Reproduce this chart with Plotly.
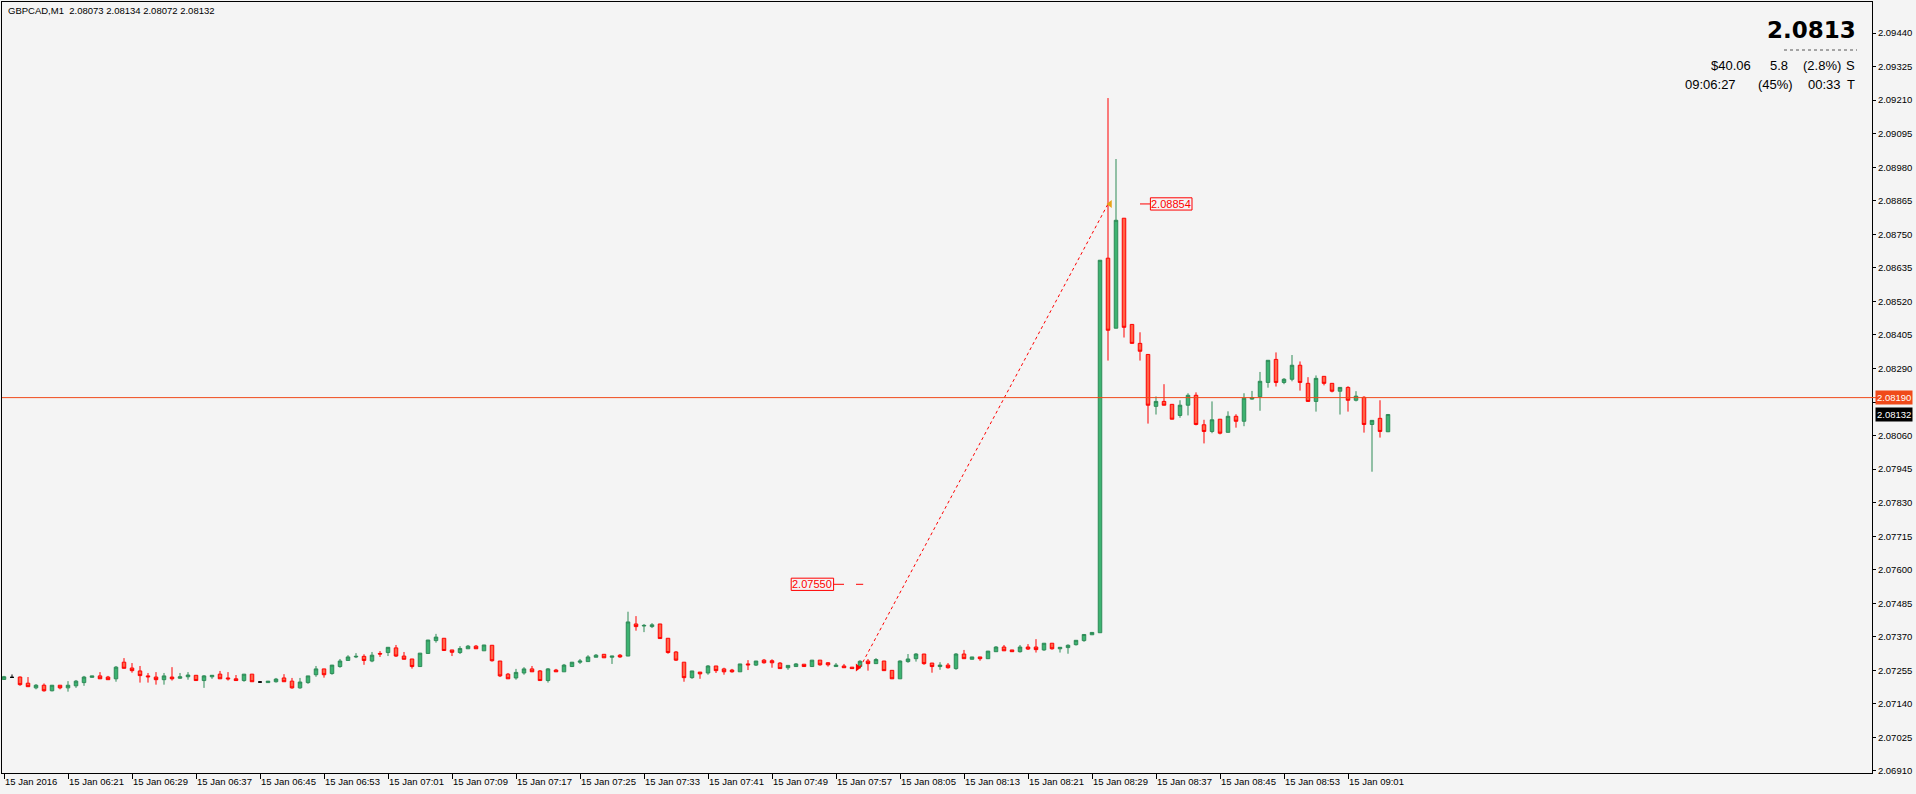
import plotly.graph_objects as go

# ---------------- data (GBPCAD M1, 15 Jan 2016, bars 06:13 .. 09:06) ----------------
bar_index = list(range(174))

opens = [
2.07224,2.07231,2.07232,2.07211,2.07195,2.07204,2.07185,2.07204,2.07195,2.07202,
2.07213,2.07231,2.07236,2.07232,2.07226,2.07283,2.07263,2.07253,2.07236,2.07232,
2.07223,2.07232,2.07228,2.07233,2.07238,2.07220,2.07233,2.07242,2.07229,2.07226,
2.07220,2.07242,2.07215,2.07213,2.07216,2.07229,2.07218,2.07195,2.07213,2.07240,
2.07260,2.07244,2.07268,2.07289,2.07301,2.07303,2.07287,2.07313,2.07316,2.07332,
2.07304,2.07294,2.07268,2.07313,2.07357,2.07365,2.07325,2.07316,2.07329,2.07338,
2.07322,2.07341,2.07287,2.07242,2.07229,2.07246,2.07260,2.07253,2.07220,2.07256,
2.07250,2.07268,2.07283,2.07285,2.07300,2.07310,2.07300,2.07307,2.07304,2.07414,
2.07407,2.07405,2.07414,2.07365,2.07318,2.07283,2.07230,2.07249,2.07246,2.07270,
2.07260,2.07256,2.07250,2.07277,2.07273,2.07290,2.07288,2.07280,2.07264,2.07268,
2.07276,2.07268,2.07290,2.07281,2.07268,2.07270,2.07266,2.07268,2.07287,2.07278,
2.07287,2.07255,2.07226,2.07285,2.07295,2.07311,2.07280,2.07268,2.07273,2.07261,
2.07311,2.07293,2.07301,2.07295,2.07319,2.07335,2.07325,2.07319,2.07335,2.07335,
2.07325,2.07348,2.07329,2.07333,2.07343,2.07357,2.07377,2.07384,2.08668,2.08428,
2.08805,2.08441,2.08376,2.08338,2.08160,2.08177,2.08167,2.08129,2.08164,2.08198,
2.08097,2.08074,2.08116,2.08071,2.08126,2.08109,2.08185,2.08193,2.08242,2.08321,
2.08242,2.08253,2.08301,2.08239,2.08177,2.08263,2.08239,2.08212,2.08225,2.08181,
2.08191,2.08098,2.08119,2.08073]

highs = [
2.07236,2.07241,2.07234,2.07232,2.07208,2.07210,2.07204,2.07204,2.07218,2.07222,
2.07236,2.07236,2.07249,2.07236,2.07270,2.07297,2.07280,2.07270,2.07246,2.07249,
2.07246,2.07266,2.07246,2.07249,2.07238,2.07239,2.07238,2.07253,2.07249,2.07239,
2.07242,2.07242,2.07218,2.07218,2.07229,2.07242,2.07229,2.07229,2.07236,2.07270,
2.07260,2.07273,2.07294,2.07307,2.07314,2.07310,2.07318,2.07321,2.07334,2.07342,
2.07318,2.07294,2.07314,2.07359,2.07380,2.07365,2.07325,2.07338,2.07342,2.07342,
2.07342,2.07341,2.07287,2.07246,2.07260,2.07266,2.07270,2.07256,2.07263,2.07260,
2.07277,2.07283,2.07294,2.07307,2.07311,2.07310,2.07304,2.07311,2.07456,2.07441,
2.07414,2.07417,2.07414,2.07365,2.07321,2.07283,2.07253,2.07249,2.07273,2.07270,
2.07264,2.07260,2.07277,2.07290,2.07287,2.07294,2.07293,2.07283,2.07272,2.07280,
2.07276,2.07290,2.07290,2.07283,2.07280,2.07277,2.07266,2.07290,2.07294,2.07297,
2.07287,2.07255,2.07289,2.07311,2.07314,2.07311,2.07280,2.07283,2.07280,2.07314,
2.07325,2.07301,2.07301,2.07321,2.07338,2.07342,2.07325,2.07342,2.07345,2.07362,
2.07348,2.07348,2.07334,2.07344,2.07358,2.07378,2.07385,2.08661,2.09217,2.09008,
2.08805,2.08441,2.08414,2.08338,2.08194,2.08236,2.08167,2.08181,2.08205,2.08208,
2.08114,2.08177,2.08116,2.08143,2.08133,2.08205,2.08213,2.08278,2.08318,2.08345,
2.08257,2.08336,2.08314,2.08260,2.08266,2.08263,2.08239,2.08225,2.08229,2.08212,
2.08195,2.08112,2.08181,2.08134]

lows = [
2.07222,2.07231,2.07202,2.07199,2.07190,2.07182,2.07183,2.07190,2.07182,2.07195,
2.07202,2.07231,2.07226,2.07223,2.07216,2.07262,2.07247,2.07213,2.07213,2.07206,
2.07206,2.07220,2.07226,2.07223,2.07220,2.07195,2.07226,2.07226,2.07220,2.07220,
2.07216,2.07216,2.07213,2.07213,2.07213,2.07216,2.07192,2.07192,2.07209,2.07233,
2.07230,2.07240,2.07264,2.07289,2.07297,2.07274,2.07283,2.07301,2.07304,2.07301,
2.07293,2.07261,2.07268,2.07313,2.07350,2.07323,2.07304,2.07311,2.07329,2.07329,
2.07322,2.07285,2.07232,2.07226,2.07223,2.07240,2.07250,2.07220,2.07213,2.07250,
2.07250,2.07268,2.07277,2.07285,2.07300,2.07298,2.07277,2.07298,2.07304,2.07391,
2.07386,2.07400,2.07364,2.07312,2.07287,2.07216,2.07226,2.07226,2.07240,2.07246,
2.07240,2.07247,2.07250,2.07256,2.07270,2.07278,2.07264,2.07261,2.07257,2.07268,
2.07268,2.07268,2.07271,2.07268,2.07268,2.07264,2.07261,2.07261,2.07254,2.07278,
2.07254,2.07226,2.07226,2.07281,2.07285,2.07274,2.07247,2.07257,2.07261,2.07257,
2.07295,2.07293,2.07288,2.07295,2.07319,2.07322,2.07319,2.07316,2.07325,2.07316,
2.07322,2.07326,2.07316,2.07312,2.07340,2.07353,2.07377,2.07384,2.08317,2.08428,
2.08396,2.08376,2.08317,2.08101,2.08132,2.08164,2.08116,2.08121,2.08129,2.08095,
2.08033,2.08068,2.08064,2.08071,2.08087,2.08092,2.08183,2.08145,2.08224,2.08228,
2.08236,2.08246,2.08214,2.08177,2.08142,2.08232,2.08208,2.08132,2.08142,2.08177,
2.08070,2.07936,2.08053,2.08072]

closes = [
2.07233,2.07231,2.07206,2.07199,2.07204,2.07185,2.07204,2.07195,2.07204,2.07218,
2.07232,2.07236,2.07226,2.07223,2.07266,2.07262,2.07254,2.07237,2.07233,2.07223,
2.07236,2.07226,2.07233,2.07239,2.07220,2.07236,2.07238,2.07226,2.07226,2.07220,
2.07242,2.07216,2.07215,2.07218,2.07225,2.07216,2.07195,2.07215,2.07236,2.07260,
2.07240,2.07273,2.07287,2.07301,2.07303,2.07289,2.07307,2.07311,2.07334,2.07304,
2.07293,2.07268,2.07314,2.07359,2.07369,2.07323,2.07317,2.07330,2.07338,2.07329,
2.07342,2.07288,2.07236,2.07226,2.07248,2.07260,2.07250,2.07220,2.07260,2.07250,
2.07273,2.07283,2.07287,2.07301,2.07307,2.07298,2.07304,2.07301,2.07421,2.07405,
2.07409,2.07411,2.07364,2.07316,2.07290,2.07230,2.07253,2.07243,2.07270,2.07254,
2.07250,2.07250,2.07277,2.07274,2.07287,2.07281,2.07281,2.07261,2.07272,2.07277,
2.07268,2.07290,2.07274,2.07274,2.07273,2.07264,2.07261,2.07286,2.07278,2.07292,
2.07254,2.07226,2.07287,2.07294,2.07311,2.07278,2.07268,2.07273,2.07264,2.07311,
2.07295,2.07301,2.07295,2.07321,2.07335,2.07322,2.07319,2.07335,2.07328,2.07326,
2.07348,2.07329,2.07334,2.07341,2.07358,2.07378,2.07385,2.08661,2.08421,2.08798,
2.08431,2.08376,2.08349,2.08164,2.08177,2.08164,2.08116,2.08164,2.08198,2.08098,
2.08074,2.08114,2.08068,2.08126,2.08109,2.08188,2.08190,2.08246,2.08318,2.08242,
2.08253,2.08301,2.08242,2.08177,2.08256,2.08239,2.08212,2.08225,2.08181,2.08195,
2.08098,2.08112,2.08074,2.08132]

time_tick_bars = [0, 8, 16, 24, 32, 40, 48, 56, 64, 72, 80, 88, 96, 104, 112, 120, 128, 136, 144, 152, 160, 168]
time_tick_labels = ["15 Jan 2016", "15 Jan 06:21", "15 Jan 06:29", "15 Jan 06:37", "15 Jan 06:45",
                    "15 Jan 06:53", "15 Jan 07:01", "15 Jan 07:09", "15 Jan 07:17", "15 Jan 07:25",
                    "15 Jan 07:33", "15 Jan 07:41", "15 Jan 07:49", "15 Jan 07:57", "15 Jan 08:05",
                    "15 Jan 08:13", "15 Jan 08:21", "15 Jan 08:29", "15 Jan 08:37", "15 Jan 08:45",
                    "15 Jan 08:53", "15 Jan 09:01"]

price_ticks = [2.06910, 2.07025, 2.07140, 2.07255, 2.07370, 2.07485, 2.07600, 2.07715, 2.07830,
               2.07945, 2.08060, 2.08175, 2.08290, 2.08405, 2.08520, 2.08635, 2.08750, 2.08865,
               2.08980, 2.09095, 2.09210, 2.09325, 2.09440]
# the 2.08175 label is hidden behind the current-line label in the reference
price_tick_labels = ["" if abs(v - 2.08175) < 1e-9 else "%.5f" % v for v in price_ticks]

hline_price = 2.08190
bid_price = 2.08132
trend_bars = [107, 138]
trend_prices = [2.07265, 2.08854]
label_low_price = 2.07550
label_high_price = 2.08854

symbol_title = "GBPCAD,M1  2.08073 2.08134 2.08072 2.08132"
big_price_text = "2.0813"
info_row1 = ["$40.06", "5.8", "(2.8%)", "S"]
info_row2 = ["09:06:27", "(45%)", "00:33", "T"]

# ---------------- figure ----------------
FONT = "Liberation Sans, Arial, sans-serif"
BG = "#F4F4F4"
W, H = 1916, 794
ML, MR, MT, MB = 2, 44, 2, 21
PW, PH = W - ML - MR, H - MT - MB


def px_x(px):
    return (px - ML) / PW


def px_y(py):
    return (H - MB - py) / PH


doji = [i for i in bar_index if opens[i] == closes[i]]
normal = [i for i in bar_index if opens[i] != closes[i]]

fig = go.Figure()
fig.add_trace(go.Candlestick(
    x=[bar_index[i] for i in normal],
    open=[opens[i] for i in normal], high=[highs[i] for i in normal],
    low=[lows[i] for i in normal], close=[closes[i] for i in normal],
    increasing=dict(line=dict(color="#2E8B57", width=1), fillcolor="#3CB371"),
    decreasing=dict(line=dict(color="#FF0000", width=1), fillcolor="#FF6347"),
    whiskerwidth=0, showlegend=False, hoverinfo="skip"))
fig.add_trace(go.Candlestick(
    x=[bar_index[i] for i in doji],
    open=[opens[i] for i in doji], high=[highs[i] for i in doji],
    low=[lows[i] for i in doji], close=[closes[i] for i in doji],
    increasing=dict(line=dict(color="#000000", width=1), fillcolor="#000000"),
    decreasing=dict(line=dict(color="#000000", width=1), fillcolor="#000000"),
    whiskerwidth=0, showlegend=False, hoverinfo="skip"))

# dotted trend line
fig.add_trace(go.Scatter(x=trend_bars, y=trend_prices, mode="lines",
                         line=dict(color="#FF0000", width=1, dash="dot"),
                         showlegend=False, hoverinfo="skip"))
fig.add_trace(go.Scatter(x=[trend_bars[0] - 0.3], y=[trend_prices[0]], mode="markers",
                         marker=dict(symbol="triangle-right", size=7, color="#FF0000"),
                         showlegend=False, hoverinfo="skip"))
fig.add_trace(go.Scatter(x=[trend_bars[1] + 0.25], y=[trend_prices[1]], mode="markers",
                         marker=dict(symbol="triangle-left", size=7, color="#E8A317"),
                         showlegend=False, hoverinfo="skip"))

shapes = []
# horizontal price line
shapes.append(dict(type="line", xref="paper", yref="y", x0=0, x1=1.003,
                   y0=hline_price, y1=hline_price, line=dict(color="#F04A1A", width=1)))
# price label boxes and their dashes
shapes.append(dict(type="rect", xref="x", yref="y", x0=98.4, x1=103.7,
                   y0=label_low_price - 0.00021, y1=label_low_price + 0.00021,
                   line=dict(color="#FF0000", width=1), fillcolor=BG))
shapes.append(dict(type="line", xref="x", yref="y", x0=103.7, x1=105.0,
                   y0=label_low_price, y1=label_low_price, line=dict(color="#FF0000", width=1)))
shapes.append(dict(type="line", xref="x", yref="y", x0=106.5, x1=107.4,
                   y0=label_low_price, y1=label_low_price, line=dict(color="#FF0000", width=1)))
shapes.append(dict(type="rect", xref="x", yref="y", x0=143.3, x1=148.5,
                   y0=label_high_price - 0.00021, y1=label_high_price + 0.00021,
                   line=dict(color="#FF0000", width=1), fillcolor=BG))
shapes.append(dict(type="line", xref="x", yref="y", x0=142.0, x1=143.3,
                   y0=label_high_price, y1=label_high_price, line=dict(color="#FF0000", width=1)))
# dotted underline under big price
shapes.append(dict(type="line", xref="paper", yref="paper", x0=px_x(1784), x1=px_x(1857),
                   y0=px_y(50), y1=px_y(50), line=dict(color="#555555", width=1, dash="dot")))

ann = []
ann.append(dict(x=101.05, y=label_low_price, xref="x", yref="y", text="2.07550", showarrow=False,
                font=dict(family=FONT, size=11, color="#FF0000"), xanchor="center", yanchor="middle"))
ann.append(dict(x=145.9, y=label_high_price, xref="x", yref="y", text="2.08854", showarrow=False,
                font=dict(family=FONT, size=11, color="#FF0000"), xanchor="center", yanchor="middle"))
# axis price labels
ann.append(dict(x=1, y=hline_price, xref="paper", yref="y", text="2.08190", showarrow=False,
                xanchor="left", yanchor="middle", xshift=3, bgcolor="#F04A1A", borderpad=1,
                font=dict(family=FONT, size=9.5, color="#FFFFFF")))
ann.append(dict(x=1, y=bid_price, xref="paper", yref="y", text="2.08132", showarrow=False,
                xanchor="left", yanchor="middle", xshift=3, bgcolor="#000000", borderpad=1,
                font=dict(family=FONT, size=9.5, color="#FFFFFF")))
# title
ann.append(dict(x=px_x(6), y=px_y(11), xref="paper", yref="paper", text=symbol_title, showarrow=False,
                xanchor="left", yanchor="middle", font=dict(family=FONT, size=9.5, color="#000000")))
# big price
ann.append(dict(x=px_x(1858), y=px_y(30), xref="paper", yref="paper", text="<b>" + big_price_text + "</b>",
                showarrow=False, xanchor="right", yanchor="middle",
                font=dict(family="DejaVu Sans, sans-serif", size=23, color="#000000")))
row1_right = [1753, 1790, 1843, 1857]
row2_right = [1738, 1795, 1843, 1857]
for txt, rx in zip(info_row1, row1_right):
    ann.append(dict(x=px_x(rx), y=px_y(65), xref="paper", yref="paper", text=txt, showarrow=False,
                    xanchor="right", yanchor="middle", font=dict(family=FONT, size=13, color="#000000")))
for txt, rx in zip(info_row2, row2_right):
    ann.append(dict(x=px_x(rx), y=px_y(85), xref="paper", yref="paper", text=txt, showarrow=False,
                    xanchor="right", yanchor="middle", font=dict(family=FONT, size=13, color="#000000")))

fig.update_layout(
    width=W, height=H, autosize=False,
    margin=dict(l=ML, r=MR, t=MT, b=MB, pad=0),
    paper_bgcolor=BG, plot_bgcolor=BG,
    showlegend=False, boxgap=0.375,
    shapes=shapes, annotations=ann,
    xaxis=dict(range=[-0.25, 233.5], rangeslider=dict(visible=False), showgrid=False, zeroline=False,
               tickmode="array", tickvals=time_tick_bars, ticktext=time_tick_labels,
               ticks="outside", ticklen=5, tickcolor="#000000", ticklabelposition="outside right",
               tickfont=dict(family=FONT, size=9.5, color="#000000"),
               showline=True, mirror=True, linecolor="#000000", linewidth=1, fixedrange=True),
    yaxis=dict(range=[2.069031, 2.095463], side="right", showgrid=False, zeroline=False,
               tickmode="array", tickvals=price_ticks, ticktext=price_tick_labels,
               ticks="outside", ticklen=3, tickcolor="#000000",
               tickfont=dict(family=FONT, size=9.5, color="#000000"),
               showline=True, mirror=True, linecolor="#000000", linewidth=1, fixedrange=True),
)

fig.write_html("out.html")
